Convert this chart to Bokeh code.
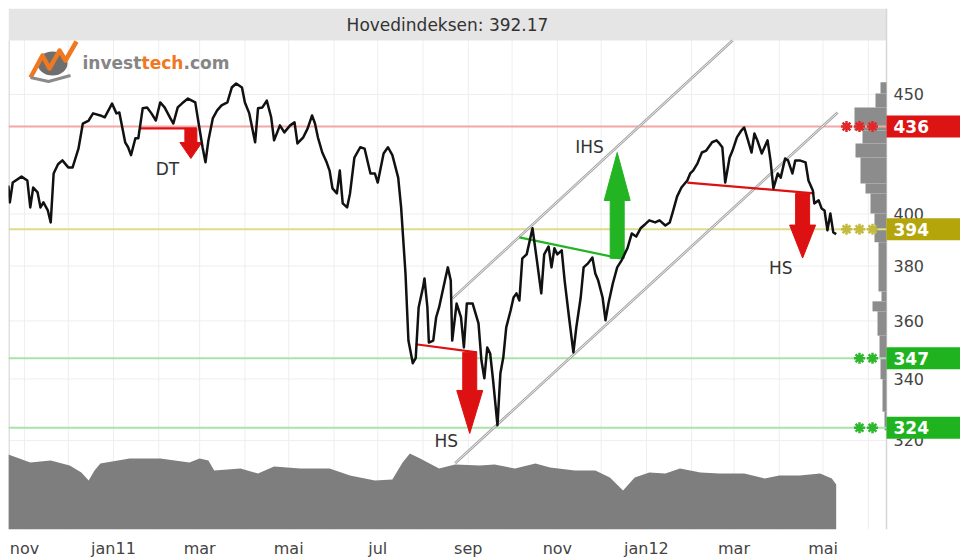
import numpy as np
import pandas as pd
from bokeh.plotting import figure
from bokeh.models import Range1d, FixedTicker, LinearScale
from bokeh.core.properties import value
from bokeh.embed import file_html
from bokeh.resources import INLINE

# ---------------- data ----------------
title_text = "Hovedindeksen: 392.17"

price_dates = [
    "2010-10-21", "2010-10-22", "2010-10-24", "2010-10-30", "2010-11-03", "2010-11-05", "2010-11-07",
    "2010-11-10", "2010-11-12", "2010-11-14", "2010-11-17", "2010-11-19", "2010-11-21", "2010-11-24",
    "2010-11-27", "2010-12-01", "2010-12-04", "2010-12-08", "2010-12-11", "2010-12-15", "2010-12-18",
    "2010-12-23", "2010-12-26", "2010-12-31", "2011-01-03", "2011-01-05", "2011-01-09", "2011-01-11",
    "2011-01-13", "2011-01-16", "2011-01-18", "2011-01-21", "2011-01-24", "2011-01-27", "2011-01-30",
    "2011-02-02", "2011-02-05", "2011-02-09", "2011-02-11", "2011-02-14", "2011-02-17", "2011-02-21",
    "2011-02-26", "2011-02-28", "2011-03-03", "2011-03-05", "2011-03-07", "2011-03-10", "2011-03-13",
    "2011-03-16", "2011-03-20", "2011-03-23", "2011-03-26", "2011-03-30", "2011-04-01", "2011-04-04",
    "2011-04-08", "2011-04-10", "2011-04-13", "2011-04-16", "2011-04-19", "2011-04-21", "2011-04-25",
    "2011-04-28", "2011-05-02", "2011-05-05", "2011-05-07", "2011-05-11", "2011-05-14", "2011-05-17",
    "2011-05-19", "2011-05-21", "2011-05-24", "2011-05-27", "2011-05-29", "2011-05-31", "2011-06-03",
    "2011-06-05", "2011-06-07", "2011-06-10", "2011-06-12", "2011-06-15", "2011-06-19", "2011-06-22",
    "2011-06-26", "2011-06-29", "2011-07-01", "2011-07-05", "2011-07-08", "2011-07-11", "2011-07-15",
    "2011-07-17", "2011-07-20", "2011-07-22", "2011-07-25", "2011-07-27", "2011-07-29", "2011-08-01",
    "2011-08-02", "2011-08-04", "2011-08-05", "2011-08-08", "2011-08-10", "2011-08-12", "2011-08-16",
    "2011-08-18", "2011-08-20", "2011-08-21", "2011-08-24", "2011-08-27", "2011-08-29", "2011-08-31",
    "2011-09-04", "2011-09-08", "2011-09-10", "2011-09-12", "2011-09-14", "2011-09-16", "2011-09-18",
    "2011-09-21", "2011-09-23", "2011-09-25", "2011-09-27", "2011-09-30", "2011-10-02", "2011-10-04",
    "2011-10-06", "2011-10-08", "2011-10-11", "2011-10-15", "2011-10-18", "2011-10-21", "2011-10-23",
    "2011-10-26", "2011-10-28", "2011-10-30", "2011-11-01", "2011-11-04", "2011-11-06", "2011-11-09",
    "2011-11-12", "2011-11-14", "2011-11-17", "2011-11-19", "2011-11-22", "2011-11-25", "2011-11-27",
    "2011-11-29", "2011-12-02", "2011-12-04", "2011-12-06", "2011-12-09", "2011-12-12", "2011-12-15",
    "2011-12-19", "2011-12-22", "2011-12-25", "2011-12-28", "2011-12-31", "2012-01-03", "2012-01-07",
    "2012-01-10", "2012-01-14", "2012-01-17", "2012-01-19", "2012-01-22", "2012-01-25", "2012-01-29",
    "2012-01-31", "2012-02-02", "2012-02-05", "2012-02-08", "2012-02-11", "2012-02-15", "2012-02-18",
    "2012-02-20", "2012-02-22", "2012-02-24", "2012-02-27", "2012-02-29", "2012-03-03", "2012-03-06",
    "2012-03-08", "2012-03-10", "2012-03-13", "2012-03-15", "2012-03-17", "2012-03-20", "2012-03-24",
    "2012-03-26", "2012-03-28", "2012-03-31", "2012-04-02", "2012-04-05", "2012-04-07", "2012-04-10",
    "2012-04-12", "2012-04-15", "2012-04-19", "2012-04-21", "2012-04-24", "2012-04-25", "2012-04-28",
    "2012-04-30", "2012-05-02", "2012-05-04", "2012-05-06", "2012-05-08", "2012-05-10",
]
price_close = [
    411.4, 404.6, 412.6, 415.0, 413.4, 402.6, 410.6,
    408.6, 402.6, 404.6, 401.4, 396.7, 416.3, 420.1,
    421.7, 418.8, 418.8, 426.6, 437.3, 438.6, 441.7,
    440.8, 440.0, 446.0, 441.7, 442.1, 429.3, 427.2,
    423.9, 431.0, 431.0, 443.9, 444.3, 441.7, 438.6,
    446.5, 444.3, 439.5, 437.3, 444.3, 446.1, 448.2,
    446.5, 438.6, 427.2, 420.9, 430.1, 439.5, 443.0,
    445.2, 446.5, 453.1, 454.9, 453.1, 446.5, 441.7,
    429.3, 443.9, 444.3, 447.3, 440.0, 430.1, 436.5,
    433.5, 436.5, 437.8, 428.8, 431.4, 435.2, 440.8,
    437.3, 431.4, 425.0, 420.9, 417.5, 410.2, 408.2,
    417.5, 404.2, 402.6, 408.2, 422.9, 427.2, 426.6,
    416.3, 416.3, 412.6, 424.6, 427.2, 423.9, 414.6,
    402.6, 377.2, 353.1, 345.3, 347.0, 364.8, 372.1,
    375.4, 364.8, 352.4, 353.1, 361.3, 364.8, 374.6,
    379.5, 374.6, 353.1, 366.2, 361.3, 350.7, 366.2,
    366.2, 359.1, 346.3, 340.2, 350.7, 348.6, 339.5,
    324.8, 341.9, 347.3, 357.7, 363.7, 368.4, 369.9,
    367.3, 382.9, 384.4, 394.4, 382.1, 369.9, 384.4,
    387.4, 379.5, 386.7, 384.4, 385.9, 374.6, 361.3,
    349.0, 357.7, 368.4, 379.5, 381.0, 383.2, 377.2,
    374.6, 368.4, 360.2, 366.2, 373.5, 379.5, 382.1,
    386.7, 392.4, 391.2, 394.4, 395.9, 397.5, 396.7,
    397.5, 395.5, 396.7, 400.6, 406.9, 410.6, 413.4,
    416.3, 417.5, 420.5, 425.0, 425.8, 429.3, 430.1,
    428.8, 427.2, 412.6, 422.9, 425.8, 431.4, 434.3,
    435.6, 431.4, 425.0, 433.0, 430.1, 424.6, 430.1,
    421.7, 410.2, 416.3, 414.6, 422.5, 421.7, 416.3,
    421.7, 421.7, 420.9, 413.4, 409.4, 404.2, 405.4,
    402.2, 401.4, 393.6, 400.2, 392.8, 392.17,
]

vol_dates = [
    "2010-10-21", "2010-11-05", "2010-11-19", "2010-12-02", "2010-12-10", "2010-12-15", "2010-12-19",
    "2010-12-23", "2011-01-12", "2011-02-02", "2011-02-22", "2011-03-01", "2011-03-07", "2011-03-11",
    "2011-03-29", "2011-04-10", "2011-04-21", "2011-05-09", "2011-05-29", "2011-06-12", "2011-06-29",
    "2011-07-11", "2011-07-18", "2011-07-23", "2011-07-30", "2011-08-12", "2011-08-23", "2011-09-09",
    "2011-09-19", "2011-10-03", "2011-10-17", "2011-10-27", "2011-11-13", "2011-11-27", "2011-12-07",
    "2011-12-16", "2011-12-24", "2012-01-03", "2012-01-14", "2012-01-24", "2012-02-07", "2012-02-20",
    "2012-03-08", "2012-03-22", "2012-04-01", "2012-04-15", "2012-04-29", "2012-05-07", "2012-05-10",
]
vol_values = [
    75, 67, 69, 64, 57, 49, 59,
    66, 71, 71, 67, 71, 69, 59,
    61, 56, 63, 61, 61, 54, 49,
    50, 67, 76, 71, 61, 65, 64,
    65, 61, 66, 62, 59, 59, 52,
    39, 52, 57, 56, 61, 57, 56,
    56, 51, 54, 54, 56, 51, 45,
]

# volume-by-price profile (price bins and relative size)
vp_low = [450.4, 444.3, 434.3, 428.8, 422.9, 412.2, 408.2, 400.2, 389.0, 370.6, 367.0, 363.4, 354.8, 346.9, 339.9, 329.2, 323.2]
vp_high = [455.5, 450.4, 444.3, 434.3, 428.8, 422.9, 412.2, 408.2, 400.2, 389.0, 370.6, 367.0, 363.4, 354.8, 346.9, 339.9, 329.2]
vp_size = [6, 11, 32, 24, 31, 26, 21, 16, 12, 8, 5, 14, 9, 7, 6, 4, 2]

# support / resistance levels
level_values = [436, 394, 347, 324]
level_stars = [3, 3, 2, 2]
level_badge_colors = ["#dc1414", "#b4a50a", "#1fb41f", "#1fb41f"]
level_line_colors = ["#f3a6a6", "#dcdc8c", "#a8e4a8", "#a8e4a8"]
level_star_colors = ["#e02828", "#c2bb3c", "#2cb82c", "#2cb82c"]

# trend channel
channel_upper_dates = ["2011-08-21", "2012-02-29"]
channel_upper_prices = [368.0, 474.6]
channel_lower_dates = ["2011-08-23", "2012-05-11"]
channel_lower_prices = [312.9, 442.1]

# chart patterns
pat_names = ["DT", "HS", "IHS", "HS"]
pat_colors = ["#dd1111", "#dd1111", "#22b422", "#dd1111"]
pat_neck_start = ["2011-01-19", "2011-07-27", "2011-10-06", "2012-01-29"]
pat_neck_end = ["2011-02-27", "2011-09-07", "2011-12-14", "2012-04-25"]
pat_neck_p0 = [435.2, 351.8, 390.9, 412.6]
pat_neck_p1 = [435.2, 349.0, 382.9, 408.2]
pat_arrow_date = ["2011-02-23", "2011-09-02", "2011-12-12", "2012-04-17"]
pat_arrow_from = [435.2, 349.0, 382.9, 408.2]
pat_arrow_to = [422.5, 322.2, 425.0, 383.0]
pat_label_date = ["2011-02-07", "2011-08-17", "2011-11-23", "2012-04-02"]
pat_label_price = [418.3, 319.7, 427.5, 379.1]

x_tick_dates = ["2010-11-01", "2010-12-01", "2011-01-01", "2011-02-01", "2011-03-01", "2011-04-01",
                "2011-05-01", "2011-06-01", "2011-07-01", "2011-08-01", "2011-09-01", "2011-10-01",
                "2011-11-01", "2011-12-01", "2012-01-01", "2012-02-01", "2012-03-01", "2012-04-01",
                "2012-05-01", "2012-06-01"]
x_tick_labels = ["nov", "", "jan11", "", "mar", "", "mai", "", "jul", "", "sep", "",
                 "nov", "", "jan12", "", "mar", "", "mai", ""]
y_ticks = [320, 340, 360, 380, 400, 450]

# ---------------- layout ----------------
FW, FH = 952, 521          # drawing area (price panel + right label strip)
PW = 878                   # width of the price panel itself
BAND = 32                  # height of the title band
X0 = pd.Timestamp("2010-10-21 02:00")
X1 = pd.Timestamp("2012-08-03 03:20")
Y0, Y1 = 293.1, 489.8


def ms(d):
    return pd.Timestamp(d).timestamp() * 1000.0


MS_PER_PX = (ms(X1) - ms(X0)) / FW
LN_PER_PX = (np.log(Y1) - np.log(Y0)) / FH

p = figure(x_axis_type="datetime", y_axis_type="log", y_axis_location=None,
           frame_width=FW, frame_height=FH,
           x_range=Range1d(X0, X1), y_range=Range1d(Y0, Y1),
           min_border_left=8, min_border_right=0, min_border_top=8, min_border_bottom=21,
           output_backend="svg", toolbar_location=None)
p.extra_x_ranges = {"px": Range1d(0, FW), "vp": Range1d(PW, PW - FW)}
p.extra_y_ranges = {"py": Range1d(0, FH), "vol": Range1d(0, FH)}
p.extra_x_scales = {"px": LinearScale(), "vp": LinearScale()}
p.extra_y_scales = {"py": LinearScale(), "vol": LinearScale()}

p.background_fill_color = "white"
p.border_fill_color = "white"
p.outline_line_color = None
p.xgrid.visible = False
p.ygrid.visible = False

tick_ms = [ms(d) for d in x_tick_dates]
p.xaxis.ticker = FixedTicker(ticks=tick_ms)
p.xaxis.major_label_overrides = {t: l for t, l in zip(tick_ms, x_tick_labels)}
p.xaxis.axis_line_color = None
p.xaxis.major_tick_line_color = None
p.xaxis.minor_tick_line_color = None
p.xaxis.major_label_text_font = "DejaVu Sans"
p.xaxis.major_label_text_font_size = "16px"
p.xaxis.major_label_text_color = "#444444"
p.xaxis.major_label_standoff = 3

GRID = "#eeeeee"
# vertical grid (monthly) and horizontal grid (price ticks)
p.segment(x0=pd.to_datetime(x_tick_dates), x1=pd.to_datetime(x_tick_dates),
          y0=[Y0] * len(x_tick_dates), y1=[Y1] * len(x_tick_dates), line_color=GRID, line_width=1)
p.segment(x0=[0] * len(y_ticks), x1=[PW] * len(y_ticks), y0=y_ticks, y1=y_ticks,
          x_range_name="px", line_color=GRID, line_width=1)

# white out the strip right of the panel
p.quad(left=[PW], right=[FW], bottom=[0], top=[FH], x_range_name="px", y_range_name="py",
       fill_color="white", line_color=None)

# title band
p.quad(left=[0], right=[PW], bottom=[FH - BAND], top=[FH], x_range_name="px", y_range_name="py",
       fill_color="#e5e5e5", line_color=None)
p.text(x=[PW / 2], y=[FH - BAND / 2], text=[title_text], x_range_name="px", y_range_name="py",
       text_align="center", text_baseline="middle", text_font=value("DejaVu Sans"),
       text_font_size="17px", text_color="#333333")

# panel borders (left and right)
p.segment(x0=[0.5, PW], x1=[0.5, PW], y0=[0, 0], y1=[FH - BAND, FH], x_range_name="px", y_range_name="py",
          line_color="#d6d6d6", line_width=1.5)

# volume
vol_x = pd.to_datetime(vol_dates)
p.varea(x=vol_x, y1=np.zeros(len(vol_values)), y2=vol_values, y_range_name="vol", fill_color="#7e7e7e")

# volume by price
p.quad(left=vp_size, right=[0] * len(vp_size), bottom=vp_low, top=vp_high, x_range_name="vp",
       fill_color="#8c8c8c", line_color=None)

# level lines
p.segment(x0=[0] * len(level_values), x1=[PW] * len(level_values), y0=level_values, y1=level_values,
          x_range_name="px", line_color=level_line_colors, line_width=2)

# y tick labels
p.text(x=[PW + 7] * len(y_ticks), y=y_ticks, text=[str(t) for t in y_ticks], x_range_name="px",
       text_align="left", text_baseline="middle", text_font=value("DejaVu Sans"),
       text_font_size="16px", text_color="#444444")

# channel
for dts, prs in ((channel_upper_dates, channel_upper_prices), (channel_lower_dates, channel_lower_prices)):
    xx = pd.to_datetime(dts)
    p.line(xx, prs, line_color="#a4a4a4", line_width=2.6)
    p.line(xx, prs, line_color="#ffffff", line_width=0.8)

# necklines
for s, e, a, b, c in zip(pat_neck_start, pat_neck_end, pat_neck_p0, pat_neck_p1, pat_colors):
    p.line(pd.to_datetime([s, e]), [a, b], line_color=c, line_width=2.2)

# arrows
arrow_xs, arrow_ys = [], []
shaft_half = [6, 7, 7, 7]
head_half = [11, 13, 13, 13]
head_len = [16, 43, 48, 33]
for i in range(len(pat_names)):
    xc = ms(pat_arrow_date[i])
    p0, p1 = pat_arrow_from[i], pat_arrow_to[i]
    d = 1 if p1 > p0 else -1
    pb = p1 * np.exp(-d * head_len[i] * LN_PER_PX)
    sw = shaft_half[i] * MS_PER_PX
    hw = head_half[i] * MS_PER_PX
    arrow_xs.append([xc - sw, xc + sw, xc + sw, xc + hw, xc, xc - hw, xc - sw])
    arrow_ys.append([p0, p0, pb, pb, p1, pb, pb])
p.patches(arrow_xs, arrow_ys, fill_color=pat_colors, line_color=pat_colors, line_width=1)

# price
p.line(pd.to_datetime(price_dates), price_close, line_color="#111111", line_width=2.5, line_join="round")

# pattern labels
p.text(x=pd.to_datetime(pat_label_date), y=pat_label_price, text=pat_names,
       text_align="center", text_baseline="middle", text_font=value("DejaVu Sans"),
       text_font_size="17px", text_color="#333333")

# level stars
for lv, n, sc in zip(level_values, level_stars, level_star_colors):
    xs = [PW - 14 - 13 * k for k in range(n)]
    p.scatter(x=xs, y=[lv] * n, x_range_name="px", marker="asterisk", size=11,
              line_color=sc, line_width=2.5)

# level badges
BH = 11  # half height in px
p.quad(left=[PW] * len(level_values), right=[FW] * len(level_values),
       bottom=[lv * np.exp(-BH * LN_PER_PX) for lv in level_values],
       top=[lv * np.exp(BH * LN_PER_PX) for lv in level_values],
       x_range_name="px", fill_color=level_badge_colors, line_color=None)
p.text(x=[PW + 7] * len(level_values), y=level_values, text=[str(v) for v in level_values],
       x_range_name="px", text_align="left", text_baseline="middle", text_font=value("DejaVu Sans"),
       text_font_style="bold", text_font_size="17px", text_color="white")

# logo
p.ellipse(x=[44], y=[466], width=[30], height=[24], x_range_name="px", y_range_name="py",
          fill_color="#6e6e6e", line_color=None)
p.line(x=[22, 34, 41, 51, 57, 68], y=[452, 474, 461, 479, 469, 488], x_range_name="px", y_range_name="py",
       line_color="#f07820", line_width=4.5, line_join="round")
p.line(x=[22, 40, 62], y=[452, 448, 454], x_range_name="px", y_range_name="py",
       line_color="#8a8a8a", line_width=3)
for tx, txt, col in ((74, "invest", "#858585"), (133, "tech", "#f07820"), (175, ".com", "#858585")):
    p.text(x=[tx], y=[467], text=[txt], x_range_name="px", y_range_name="py",
           text_align="left", text_baseline="middle", text_font=value("DejaVu Sans"),
           text_font_style="bold", text_font_size="17px", text_color=col)

open("out.html", "w").write(file_html(p, INLINE))
